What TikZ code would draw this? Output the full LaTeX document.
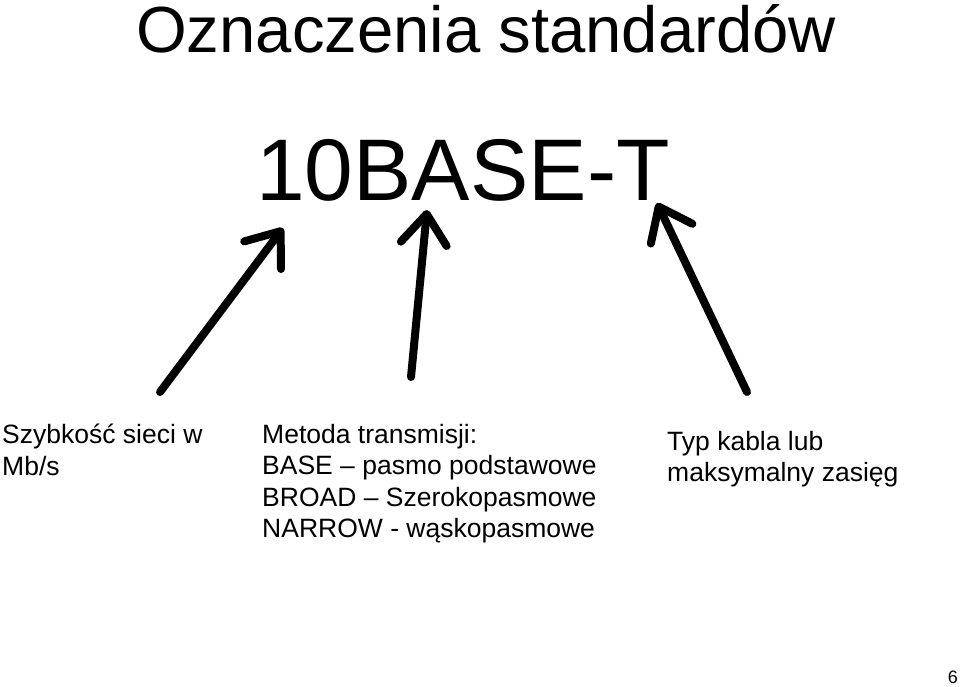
\documentclass[tikz,border=0pt]{standalone}
\usepackage{fontspec}
\setmainfont{Liberation Sans}
\usetikzlibrary{arrows.meta}
\tikzset{
  opis/.style={anchor=north west, inner sep=0pt, align=left, font=\fontsize{26.5}{31.5}\selectfont},
  strzalka/.style={line width=8pt, line cap=round, -{Straight Barb[length=30pt, width=46pt, round]}}
}

\begin{document}
\begin{tikzpicture}[x=1pt, y=-1pt]
  \useasboundingbox (0,0) rectangle (960,686);
  \node[anchor=base, inner sep=0pt, font=\fontsize{65.2}{70}\selectfont] (tytul) at (486,52) {Oznaczenia standardów};
  \node[anchor=base, inner sep=0pt, font=\fontsize{87.5}{95}\selectfont] (nazwa) at (463,200) {10BASE-T};
  \node[opis] (szybkosc) at (2,424) {Szybkość sieci w\\Mb/s};
  \node[opis] (metoda) at (262,424) {Metoda transmisji:\\BASE -- pasmo podstawowe\\BROAD -- Szerokopasmowe\\NARROW - wąskopasmowe};
  \node[opis] (kabel) at (667,431) {Typ kabla lub\\maksymalny zasięg};
  \node[anchor=base east, inner sep=0pt, font=\fontsize{18}{20}\selectfont] (strona) at (958,683) {6};
  \coordinate (s1) at (160,392);
  \coordinate (k1) at (283,228);
  \coordinate (s2) at (411,377);
  \coordinate (k2) at (427,210);
  \coordinate (s3) at (747,392);
  \coordinate (k3) at (657,203);
  \draw[strzalka] (s1) -- (k1);
  \draw[strzalka] (s2) -- (k2);
  \draw[strzalka] (s3) -- (k3);
\end{tikzpicture}
\end{document}
